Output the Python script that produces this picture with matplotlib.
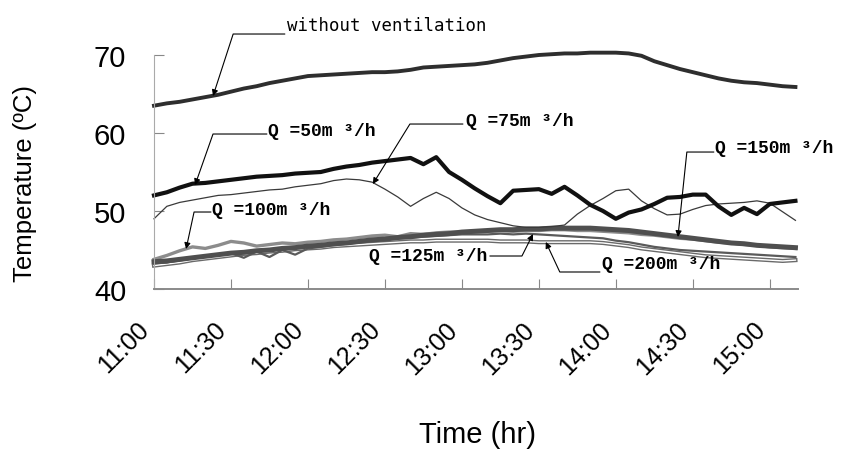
import numpy as np
import matplotlib
matplotlib.use('Agg')
import matplotlib.pyplot as plt

# time in minutes after 11:00, one reading every 5 min
t_min = np.arange(0, 251, 5)

tick_pos = [0, 30, 60, 90, 120, 150, 180, 210, 240]
tick_lab = ['11:00', '11:30', '12:00', '12:30', '13:00',
            '13:30', '14:00', '14:30', '15:00']

# temperatures (C)
no_vent = [63.5, 63.8, 64.0, 64.3, 64.6, 64.9, 65.3, 65.7, 66.0, 66.4,
           66.7, 67.0, 67.3, 67.4, 67.5, 67.6, 67.7, 67.8, 67.8, 67.9,
           68.1, 68.4, 68.5, 68.6, 68.7, 68.8, 69.0, 69.3, 69.6, 69.8,
           70.0, 70.1, 70.2, 70.2, 70.3, 70.3, 70.3, 70.2, 69.9, 69.2,
           68.7, 68.2, 67.8, 67.4, 67.0, 66.7, 66.5, 66.4, 66.2, 66.0,
           65.9]
q50 = [52.0, 52.4, 53.0, 53.5, 53.6, 53.8, 54.0, 54.2, 54.4, 54.5,
       54.6, 54.8, 54.9, 55.0, 55.4, 55.7, 55.9, 56.2, 56.4, 56.6,
       56.8, 56.0, 56.9, 55.0, 54.0, 52.9, 51.9, 51.0, 52.6, 52.7,
       52.8, 52.2, 53.1, 52.0, 50.8, 50.0, 49.0, 49.8, 50.2, 50.9,
       51.7, 51.8, 52.1, 52.1, 50.6, 49.5, 50.4, 49.6, 50.9, 51.1,
       51.3]
q75 = [49.0, 50.6, 51.1, 51.4, 51.7, 52.0, 52.1, 52.3, 52.5, 52.7,
       52.8, 53.1, 53.3, 53.5, 53.9, 54.1, 54.0, 53.7, 52.8, 51.8,
       50.6, 51.6, 52.4, 51.6, 50.4, 49.5, 48.9, 48.5, 48.1, 47.9,
       47.9, 48.0, 48.2, 49.6, 50.7, 51.6, 52.6, 52.8, 51.3, 50.3,
       49.5, 49.6, 50.2, 50.7, 50.9, 51.0, 51.1, 51.3, 51.0, 49.9,
       48.8]
q100 = [43.8, 44.3, 44.9, 45.4, 45.2, 45.6, 46.1, 45.9, 45.5, 45.7,
        45.9, 45.8, 46.0, 46.1, 46.3, 46.4, 46.6, 46.8, 46.9, 46.7,
        47.1, 47.0, 47.2, 47.3, 47.3, 47.4, 47.4, 47.5, 47.4, 47.5,
        47.5, 47.6, 47.6, 47.5, 47.5, 47.4, 47.3, 47.2, 47.0, 46.9,
        46.7, 46.5, 46.4, 46.2, 46.0, 45.9, 45.7, 45.6, 45.4, 45.3,
        45.2]
q125 = [43.3, 43.4, 43.7, 43.9, 44.2, 44.4, 44.6, 44.0, 44.8, 44.1,
        45.0, 44.4, 45.2, 45.4, 45.6, 45.8, 46.0, 46.2, 46.4, 46.5,
        46.6, 46.7, 46.8, 46.9, 47.0, 47.0, 47.0, 47.1, 47.0, 47.1,
        47.0, 46.9, 46.8, 46.7, 46.6, 46.5, 46.2, 46.0, 45.7, 45.4,
        45.2, 45.0, 44.9, 44.8, 44.7, 44.6, 44.5, 44.4, 44.3, 44.2,
        44.1]
q150 = [43.5, 43.6, 43.8, 44.0, 44.2, 44.4, 44.6, 44.7, 44.9, 45.0,
        45.2, 45.3, 45.5, 45.6, 45.8, 45.9, 46.1, 46.3, 46.4, 46.6,
        46.7, 46.9, 47.0, 47.1, 47.3, 47.4, 47.5, 47.6, 47.6, 47.7,
        47.7, 47.8, 47.8, 47.8, 47.8, 47.7, 47.6, 47.5, 47.3, 47.1,
        46.9, 46.7, 46.5, 46.3, 46.1, 45.9, 45.8, 45.6, 45.5, 45.4,
        45.3]
q200 = [43.0, 43.2, 43.4, 43.7, 43.9, 44.1, 44.3, 44.5, 44.6, 44.8,
        44.9, 45.1, 45.2, 45.3, 45.5, 45.6, 45.7, 45.8, 45.9, 46.0,
        46.1, 46.1, 46.2, 46.2, 46.2, 46.2, 46.2, 46.1, 46.1, 46.1,
        46.0, 46.0, 46.0, 46.0, 46.0, 45.9, 45.7, 45.5, 45.2, 45.0,
        44.8, 44.6, 44.4, 44.2, 44.1, 44.0, 43.9, 43.8, 43.7, 43.6,
        43.7]

narrow = ['Liberation Sans', 'DejaVu Sans']
mono = ['Liberation Mono', 'DejaVu Sans Mono']

fig = plt.figure(figsize=(8.47, 4.52), dpi=100)
ax = fig.add_axes([154/847, 1-290/452, 644/847, 234/452])

# bottom cluster first
ax.plot(t_min, q200, color='#6a6a6a', lw=3.0, clip_on=False)
ax.plot(t_min, q200, color='white', lw=1.0, clip_on=False)
ax.plot(t_min, q125, color='#5a5a5a', lw=1.6, clip_on=False)
ax.plot(t_min, q100, color='#8c8c8c', lw=2.4, clip_on=False)
ax.plot(t_min, q150, color='#4f4f4f', lw=3.6, clip_on=False)
ax.plot(t_min, q75, color='#3a3a3a', lw=0.9, clip_on=False)
ax.plot(t_min, q50, color='#111111', lw=3.0, clip_on=False)
ax.plot(t_min, no_vent, color='#2e2e2e', lw=2.8, clip_on=False)

ax.set_xlim(0, 251)
ax.set_ylim(40, 70)
ax.set_yticks([40, 50, 60, 70])
ax.set_xticks(tick_pos)
ax.set_xticklabels(tick_lab, rotation=45, ha='right', va='top',
                   fontsize=18, family=narrow)
for lab in ax.get_yticklabels():
    lab.set_fontsize(21)
    lab.set_family(narrow)
ax.tick_params(axis='both', direction='in', length=7, width=0.8,
               color='#888888', pad=20)

for side in ['top', 'right']:
    ax.spines[side].set_visible(False)
ax.spines['left'].set_color('#aaaaaa')
ax.spines['left'].set_linewidth(0.8)
ax.spines['bottom'].set_color('#8a8a8a')
ax.spines['bottom'].set_linewidth(1.4)

fig.text(25/847, 1-183/452, 'Temperature (ºC)', rotation=90,
         ha='center', va='center', fontsize=18.5, family=narrow)
fig.text(477/847, 1-435/452, 'Time (hr)', ha='center', va='center',
         fontsize=21, family=narrow)

# labels with leader lines: (text, tip, line start, angle, text pos, ha, va)
labels = [
    ('without ventilation', (23.0, 64.74), (51.0, 72.69), 72,
     (51.8, 72.75), 'left', 'bottom', mono[1:], 'normal'),
    ('Q =50m ³/h', (16.0, 53.33), (44.0, 59.87), 70.6,
     (44.4, 59.7), 'left', 'baseline', mono, 'bold'),
    ('Q =75m ³/h', (85.3, 53.46), (120.4, 61.15), 58.3,
     (121.6, 61.0), 'left', 'baseline', mono, 'bold'),
    ('Q =100m ³/h', (12.5, 45.13), (22.2, 49.87), 77.8,
     (22.6, 49.6), 'left', 'baseline', mono, 'bold'),
    ('Q =125m ³/h', (147.7, 47.05), (130.9, 44.23), 63.4,
     (129.7, 44.3), 'right', 'center', mono, 'bold'),
    ('Q =200m ³/h', (152.7, 46.03), (173.8, 42.18), -65,
     (174.5, 42.75), 'left', 'baseline', mono, 'bold'),
    ('Q =150m ³/h', (204.2, 46.67), (218.2, 57.56), 84,
     (218.6, 57.5), 'left', 'baseline', mono, 'bold'),
]
for txt, tip, start, ang, tpos, ha, va, fam, wt in labels:
    ax.annotate('', xy=tip, xytext=start, annotation_clip=False,
                arrowprops=dict(arrowstyle='-|>', color='black', lw=0.8,
                                shrinkA=0, shrinkB=0, mutation_scale=9,
                                connectionstyle='angle,angleA=0,angleB=%g,rad=0' % ang))
    ax.text(tpos[0], tpos[1], txt, ha=ha, va=va, family=fam,
            fontsize=13 if wt == 'bold' else 12.5, fontweight=wt)

plt.savefig('out.png', dpi=100)
